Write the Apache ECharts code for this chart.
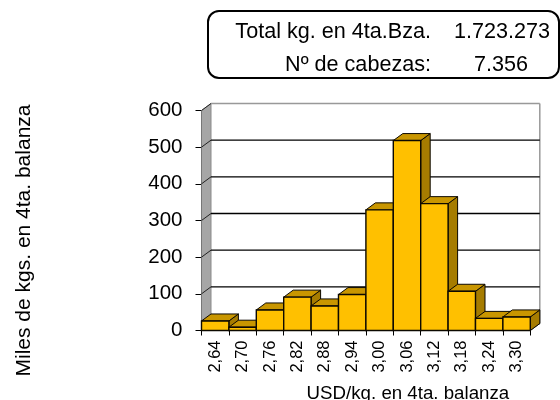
<!DOCTYPE html>
<html><head><meta charset="utf-8">
<script src="https://cdn.jsdelivr.net/npm/echarts@6/dist/echarts.min.js"></script>
<style>html,body{margin:0;padding:0;background:#fff}#c{width:560px;height:400px}</style>
</head><body><div id="c"></div>
<script>
const categories = ['2,64','2,70','2,76','2,82','2,88','2,94','3,00','3,06','3,12','3,18','3,24','3,30'];
const values = [26, 9, 56, 91, 67, 98, 329, 518, 346, 107, 33, 37];
const yTicks = [0, 100, 200, 300, 400, 500, 600];
const boxLabels = ['Total kg. en 4ta.Bza.', 'Nº de cabezas:'];
const boxValues = ['1.723.273', '7.356'];
const xTitle = 'USD/kg. en 4ta. balanza';
const yTitle = 'Miles de kgs. en 4ta. balanza';

const DX = 9.5, DY = 7;
const FONT = '"Liberation Sans", Arial, sans-serif';
const chart = echarts.init(document.getElementById('c'), null, {renderer: 'canvas'});
const poly = (points, fill, stroke, lw) => ({type: 'polygon', shape: {points}, style: {fill, stroke, lineWidth: lw}});

chart.setOption({
  animation: false,
  backgroundColor: '#fff',
  grid: {left: 201.5, top: 110.5, width: 328.8, height: 220, containLabel: false, outerBoundsMode: 'none'},
  xAxis: {
    type: 'category', data: categories, boundaryGap: true,
    axisLine: {show: true, lineStyle: {color: '#000', width: 1}},
    axisTick: {show: true, alignWithLabel: false, length: 5, lineStyle: {color: '#000'}},
    axisLabel: {rotate: 90, fontFamily: FONT, fontSize: 16.5, color: '#000', margin: 10, interval: 0, verticalAlign: 'middle'},
    name: xTitle, nameLocation: 'middle', nameGap: 54,
    nameTextStyle: {fontFamily: FONT, fontSize: 18.7, color: '#000', padding: [0, 0, 0, 84]}
  },
  yAxis: {
    type: 'value', min: 0, max: 600, interval: 100,
    axisLine: {show: false},
    axisTick: {show: true, length: 6, lineStyle: {color: '#000'}},
    splitLine: {show: false},
    axisLabel: {fontFamily: FONT, fontSize: 20.5, color: '#000', margin: 19, padding: [4, 0, 0, 0]},
    name: yTitle, nameLocation: 'middle', nameGap: 167, nameRotate: 90,
    nameTextStyle: {fontFamily: FONT, fontSize: 21, color: '#000', padding: [0, 40, 0, 0]}
  },
  series: [
    {
      type: 'custom', coordinateSystem: 'cartesian2d', silent: true, z: 1,
      encode: {y: 0},
      data: yTicks.map(v => [v]),
      renderItem(params, api) {
        const v = api.value(0);
        const rect = params.coordSys;
        const y = api.coord([0, v])[1];
        const L = rect.x, R = rect.x + rect.width;
        const children = [];
        if (params.dataIndex === 0) {
          const T = rect.y, B = rect.y + rect.height;
          children.push(poly([[L, T], [L + DX, T - DY], [L + DX, B - DY], [L, B]], '#a6a6a6', '#8a8a8a', 1));
          children.push({type: 'line', shape: {x1: R + DX, y1: T - DY, x2: R + DX, y2: B - DY}, style: {stroke: '#999', lineWidth: 1.5}});
          children.push({type: 'line', shape: {x1: R, y1: B, x2: R + DX, y2: B - DY}, style: {stroke: '#444', lineWidth: 1}});
          children.push({type: 'line', shape: {x1: L, y1: T, x2: L, y2: B}, style: {stroke: '#777', lineWidth: 1}});
        }
        const top = params.dataIndex === yTicks.length - 1;
        children.push({type: 'line', shape: {x1: L + DX, y1: y - DY, x2: R + DX, y2: y - DY},
          style: {stroke: top ? '#999' : '#000', lineWidth: top ? 1.5 : 1.3}});
        children.push({type: 'line', shape: {x1: L, y1: y, x2: L + DX, y2: y - DY},
          style: {stroke: '#222', lineWidth: 1}});
        return {type: 'group', children};
      }
    },
    {
      type: 'custom', coordinateSystem: 'cartesian2d', silent: true, z: 2,
      encode: {x: 0, y: 1},
      data: categories.map((c, i) => [i, values[i]]),
      renderItem(params, api) {
        const i = api.value(0), v = api.value(1);
        const top = api.coord([i, v]);
        const base = api.coord([i, 0]);
        const w = api.size([1, 0])[0];
        const x0 = top[0] - w / 2, x1 = top[0] + w / 2;
        const yt = top[1], yb = base[1];
        const s = '#0d0900';
        return {type: 'group', children: [
          poly([[x1, yb], [x1 + DX, yb - DY], [x1 + DX, yt - DY], [x1, yt]], '#a67c00', s, 1),
          poly([[x0, yt], [x0 + DX, yt - DY], [x1 + DX, yt - DY], [x1, yt]], '#c99600', s, 1),
          poly([[x0, yb], [x1, yb], [x1, yt], [x0, yt]], '#ffc000', s, 1.4)
        ]};
      }
    }
  ],
  graphic: [
    {type: 'rect', shape: {x: 208, y: 11, width: 351, height: 67, r: 11}, style: {fill: '#fff', stroke: '#000', lineWidth: 2}, z: 5},
    {type: 'text', x: 431, y: 32, z: 6, style: {text: boxLabels[0], fill: '#000', font: '21.6px ' + FONT, textAlign: 'right', textVerticalAlign: 'middle'}},
    {type: 'text', x: 431, y: 65, z: 6, style: {text: boxLabels[1], fill: '#000', font: '21.6px ' + FONT, textAlign: 'right', textVerticalAlign: 'middle'}},
    {type: 'text', x: 550, y: 32, z: 6, style: {text: boxValues[0], fill: '#000', font: '21.6px ' + FONT, textAlign: 'right', textVerticalAlign: 'middle'}},
    {type: 'text', x: 528, y: 65, z: 6, style: {text: boxValues[1], fill: '#000', font: '21.6px ' + FONT, textAlign: 'right', textVerticalAlign: 'middle'}}
  ]
});
</script></body></html>
